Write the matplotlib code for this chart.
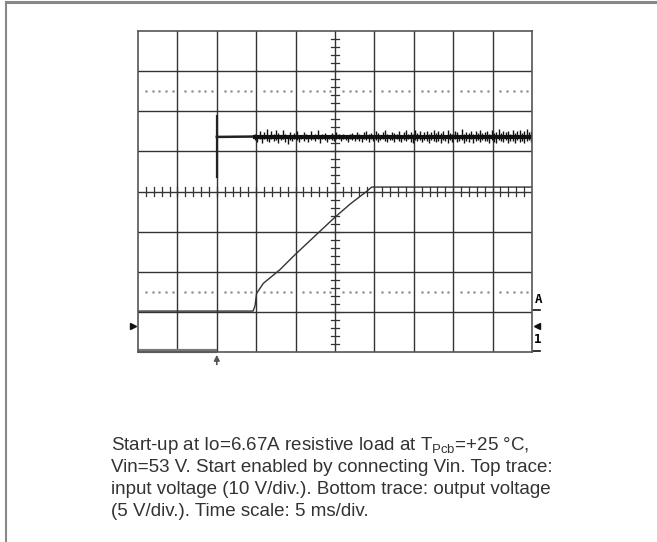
import matplotlib
matplotlib.use("Agg")
import matplotlib.pyplot as plt
import numpy as np
from matplotlib.lines import Line2D

plt.rcParams['font.family'] = ['Liberation Sans', 'DejaVu Sans']
plt.rcParams['mathtext.fontset'] = 'custom'
plt.rcParams['mathtext.rm'] = 'Liberation Sans'

# screen is 10 x 8 divisions, all values below in divisions
n_xdiv = 10
n_ydiv = 8

# top trace: input voltage (10 V/div), ground at the bottom edge
vin_off_t = [0.0, 2.0]
vin_off_y = [0.03, 0.03]
vin_step_t = [2.0, 2.0]
vin_step_y = [4.36, 5.89]
vin_flat_t = [2.0, 2.97]
vin_flat_y = [5.36, 5.37]
vin_level = 5.36
vin_noise_start = 2.97
# ripple spikes, volts above / below the mean
vin_spike_up = [0.8, 0.5, 1.6, 0.6, 1.2, 1.9, 0.5, 1.5, 0.7, 1.8, 1.1, 0.5, 1.7, 0.8, 0.6, 1.3, 0.5, 0.9, 1.6, 0.6,
                0.5, 1.2, 0.7, 0.5, 1.5, 0.6, 0.8, 1.7, 0.5, 0.7, 1.1, 0.5, 0.6, 0.9, 0.5, 1.2, 0.7, 0.5, 0.8, 0.6,
                0.5, 0.7, 1.1, 0.6, 1.3, 0.8, 0.5, 1.2, 1.6, 0.7, 1.1, 0.6, 1.5, 0.9, 0.5, 1.2, 1.7, 0.8, 0.6, 1.3,
                1.1, 0.7, 1.6, 0.6, 1.2, 1.8, 0.8, 1.3, 0.7, 1.7, 0.9, 1.5, 0.6, 1.2, 1.6, 0.8, 1.3, 1.8, 1.1, 1.5,
                0.9, 1.4, 0.6, 1.7, 1.0, 0.7, 1.5, 1.2, 0.6, 1.9, 0.8, 1.3, 1.0, 1.6, 0.7, 1.4, 1.1, 1.8, 0.9, 1.2,
                1.5, 0.8, 1.7, 1.0, 1.3, 1.9, 0.9, 1.4, 1.2, 1.6, 0.8, 1.8, 1.1, 1.4, 1.7, 1.0, 1.5, 1.9, 1.2, 1.6]
vin_spike_dn = [0.7, 1.2, 0.6, 1.5, 0.5, 0.9, 1.3, 0.6, 1.1, 0.7, 1.6, 0.8, 0.6, 1.2, 1.7, 0.7, 1.1, 0.6, 0.8, 1.3,
                0.6, 0.9, 0.5, 1.2, 0.7, 0.5, 1.1, 0.6, 1.5, 0.5, 0.8, 1.2, 0.5, 0.7, 1.1, 0.6, 0.5, 0.9, 0.6, 0.8,
                1.2, 0.5, 0.7, 1.1, 0.6, 0.9, 1.3, 0.6, 0.8, 1.2, 0.6, 1.1, 0.7, 1.3, 0.8, 0.6, 0.9, 1.2, 0.7, 0.8,
                1.2, 0.6, 0.9, 1.3, 0.7, 1.1, 0.6, 1.2, 1.5, 0.7, 1.1, 0.8, 1.3, 0.7, 0.9, 1.5, 0.8, 1.1, 1.3, 0.9,
                1.4, 0.7, 1.0, 1.6, 0.8, 1.2, 0.6, 1.3, 1.0, 0.7, 1.5, 0.9, 1.2, 0.6, 1.4, 1.0, 0.8, 1.3, 0.7, 1.1,
                0.9, 1.4, 0.7, 1.2, 1.6, 0.8, 1.0, 1.3, 0.7, 1.5, 0.9, 1.1, 1.4, 0.8, 1.2, 0.9, 1.6, 1.0, 0.8, 1.3]
vin_volts_per_div = 10.0

# bottom trace: output voltage (5 V/div)
vout_t = [0.0, 2.92, 2.97, 3.01, 3.18, 3.60, 3.98, 4.50, 5.00, 5.40, 5.80, 5.93, 10.0]
vout_y = [1.02, 1.02, 1.15, 1.46, 1.71, 2.05, 2.42, 2.90, 3.36, 3.70, 4.00, 4.11, 4.11]

trigger_t = 2.0
dotted_levels = [6.5, 1.5]

caption = [
    r"Start-up at Io=6.67A resistive load at T$_{\rm Pcb}$=+25 °C,",
    "Vin=53 V. Start enabled by connecting Vin. Top trace:",
    "input voltage (10 V/div.). Bottom trace: output voltage",
    "(5 V/div.). Time scale: 5 ms/div.",
]

fig = plt.figure(figsize=(6.57, 5.42), dpi=100)
ax = fig.add_axes([138 / 657, 1 - 352 / 542, 394 / 657, 321 / 542])
ax.set_xlim(0, n_xdiv)
ax.set_ylim(0, n_ydiv)
ax.set_xticks([])
ax.set_yticks([])
for s in ax.spines.values():
    s.set_color('#555555')
    s.set_linewidth(1.2)

# graticule
for i in range(1, n_xdiv):
    ax.axvline(i, color='#333333', lw=1.0)
for j in range(1, n_ydiv):
    ax.axhline(j, color='#333333', lw=1.0)

# minor ticks on the centre cross
minor = np.arange(0.2, n_xdiv, 0.2)
for x in minor:
    ax.plot([x, x], [3.9, 4.1], color='#333333', lw=0.9)
minor_y = np.arange(0.2, n_ydiv, 0.2)
for y in minor_y:
    ax.plot([4.9, 5.1], [y, y], color='#333333', lw=0.9)

# dotted cursor levels
for lev in dotted_levels:
    xs = np.concatenate([np.arange(0.2, 0.9, 0.17) + k for k in range(n_xdiv)])
    ax.plot(xs, np.full_like(xs, lev), ls='none', marker='s', ms=0.8, color='#999999')

# input voltage trace
ax.plot(vin_off_t, vin_off_y, color='#777777', lw=3.0, solid_capstyle='butt', clip_on=False)
ax.plot(vin_step_t, vin_step_y, color='#222222', lw=1.6)
ax.plot(vin_flat_t, vin_flat_y, color='#222222', lw=1.8)
up = np.array(vin_spike_up) / vin_volts_per_div
dn = np.array(vin_spike_dn) / vin_volts_per_div
spike_t = np.linspace(vin_noise_start, n_xdiv - 0.02, len(up))
ax.vlines(spike_t, vin_level - dn, vin_level + up, color='#111111', lw=1.0)
ax.plot([vin_noise_start, n_xdiv], [vin_level, vin_level], color='#111111', lw=3.0)

# output voltage trace
ax.plot(vout_t, vout_y, color='#333333', lw=1.0)

# trigger arrow below the screen
ax.annotate('', xy=(trigger_t, 0.0), xytext=(trigger_t, -0.38),
            arrowprops=dict(arrowstyle='-|>', color='#555555', lw=1.2, mutation_scale=8),
            annotation_clip=False)

# channel markers
ax.plot([-0.12], [0.65], marker='>', ms=4.5, color='#111111', clip_on=False)
ax.plot([10.12], [0.65], marker='<', ms=4.5, color='#111111', clip_on=False)
ax.text(10.06, 1.3, 'A', fontsize=9, fontweight='bold', family='DejaVu Sans Mono',
        ha='left', va='center', clip_on=False)
ax.plot([10.02, 10.2], [1.05, 1.05], color='#111111', lw=1.2, clip_on=False)
ax.text(10.06, 0.3, '1', fontsize=9, fontweight='bold', family='DejaVu Sans Mono',
        ha='left', va='center', clip_on=False)
ax.plot([10.02, 10.2], [0.03, 0.03], color='#111111', lw=1.2, clip_on=False)

# page frame
fig.add_artist(Line2D([5.5 / 657, 1], [1 - 1.5 / 542, 1 - 1.5 / 542], color='#888888', lw=2.2))
fig.add_artist(Line2D([5.5 / 657, 5.5 / 657], [0, 1 - 1.5 / 542], color='#888888', lw=1.5))

# caption
line_y = [445, 467, 489, 512]
for txt, y in zip(caption, line_y):
    fig.text(111 / 657, 1 - y / 542, txt, fontsize=13.5, color='#333333', ha='left', va='center')

fig.savefig('out.png', dpi=100)
